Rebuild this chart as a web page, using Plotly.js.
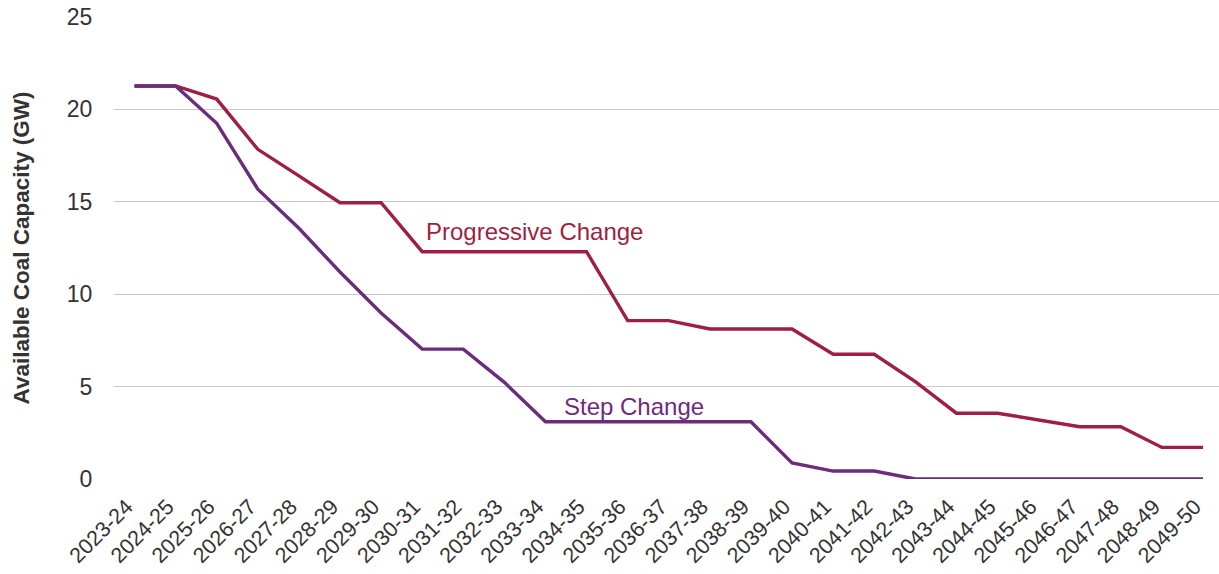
<!DOCTYPE html>
<html><head><meta charset="utf-8">
<script src="https://cdn.plot.ly/plotly-3.0.1.min.js"></script>
<style>html,body{margin:0;padding:0;background:#fff}#chart{width:1219px;height:574px}</style>
</head><body><div id="chart"></div>
<script>
const years = ["2023-24","2024-25","2025-26","2026-27","2027-28","2028-29","2029-30","2030-31","2031-32","2032-33","2033-34","2034-35","2035-36","2036-37","2037-38","2038-39","2039-40","2040-41","2041-42","2042-43","2043-44","2044-45","2045-46","2046-47","2047-48","2048-49","2049-50"];
const progressive = [21.27,21.27,20.56,17.84,16.4,14.95,14.95,12.3,12.3,12.3,12.3,12.3,8.57,8.57,8.12,8.12,8.12,6.75,6.75,5.27,3.56,3.56,3.19,2.83,2.83,1.71,1.71];
const step = [21.27,21.27,19.25,15.68,13.57,11.2,8.98,7.03,7.03,5.23,3.1,3.1,3.1,3.1,3.1,3.1,0.87,0.43,0.43,0,0,0,0,0,0,0,0];
const progColor = "#9E1F42";
const stepColor = "#6B2D7B";

const traces = [
  {x: years, y: progressive, type: "scatter", mode: "lines", name: "Progressive Change",
   line: {color: progColor, width: 3.4}, cliponaxis: false},
  {x: years, y: step, type: "scatter", mode: "lines", name: "Step Change",
   line: {color: stepColor, width: 3.4}, cliponaxis: false}
];
const layout = {
  width: 1219, height: 574,
  margin: {l: 114, r: 0, t: 17, b: 95},
  showlegend: false,
  paper_bgcolor: "#fff", plot_bgcolor: "#fff",
  font: {family: "Liberation Sans, Arial, sans-serif", color: "#333"},
  xaxis: {type: "category", range: [-0.5, 26.39], showgrid: false, zeroline: false,
          showline: false, tickangle: -45, ticks: "", tickfont: {size: 21.5, color: "#333"},
          ticklabelstandoff: 10, ticklabelshift: -8},
  yaxis: {range: [0, 25], dtick: 5, showgrid: true, gridcolor: "#C8C8C8", gridwidth: 1.3,
          zeroline: false, showline: false, ticks: "outside", ticklen: 16, tickcolor: "rgba(0,0,0,0)",
          tickfont: {size: 23, color: "#333"},
          title: {text: "<b>Available Coal Capacity (GW)</b>", font: {size: 22.5, color: "#333"}, standoff: 30}},
  annotations: [
    {x: 9.74, y: 13.37, xref: "x", yref: "y", text: "Progressive Change", showarrow: false,
     font: {size: 24, color: progColor}},
    {x: 12.15, y: 3.9, xref: "x", yref: "y", text: "Step Change", showarrow: false,
     font: {size: 24, color: stepColor}}
  ]
};
Plotly.newPlot("chart", traces, layout, {displayModeBar: false, staticPlot: true});
</script></body></html>
